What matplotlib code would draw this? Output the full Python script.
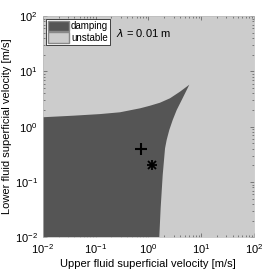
import matplotlib
matplotlib.use("Agg")
import matplotlib.pyplot as plt
from matplotlib.patches import Patch

plt.rcParams['font.family'] = ['Liberation Sans', 'DejaVu Sans']

# Boundary of damping region (top edge, left to tip)
top_x = [0.01, 0.038, 0.122, 0.29, 0.70, 1.07, 1.66, 2.57, 3.97, 5.96]
top_y = [1.48, 1.58, 1.69, 1.82, 2.15, 2.39, 2.71, 3.26, 4.29, 5.73]
# Right edge, from tip down to bottom
right_x = [5.96, 5.32, 4.28, 3.44, 2.89, 2.49, 2.22, 2.07, 1.87, 1.71, 1.61]
right_y = [5.73, 4.60, 3.03, 2.00, 1.32, 0.87, 0.574, 0.406, 0.134, 0.034, 0.01]

plus_pt = (0.726, 0.39)
star_pt = (1.19, 0.20)

xlim = (1e-2, 1e2)
ylim = (1e-2, 1e2)

fig = plt.figure(figsize=(2.66, 2.76), dpi=100)
ax = fig.add_axes([0.1605, 0.140, 0.7944, 0.802])
ax.set_xscale('log')
ax.set_yscale('log')
ax.set_xlim(*xlim)
ax.set_ylim(*ylim)

light = '#cccccc'
dark = '#555555'
ax.set_facecolor(light)

poly_x = [xlim[0]] + top_x + right_x[1:]
poly_y = [ylim[0]] + top_y + right_y[1:]
ax.fill(poly_x, poly_y, color=dark, lw=0, zorder=1)

ax.plot([plus_pt[0]], [plus_pt[1]], marker='+', color='black', ms=8, mew=1.5, zorder=3)
ax.plot([star_pt[0]], [star_pt[1]], marker='+', color='black', ms=7, mew=1.3, zorder=3)
ax.plot([star_pt[0]], [star_pt[1]], marker='x', color='black', ms=5.5, mew=1.3, zorder=3)

ax.text(0.347, 0.925, r'$\lambda$ = 0.01 m', fontsize=8, transform=ax.transAxes,
        va='center', ha='left')

handles = [Patch(facecolor=dark, edgecolor='#888888', label='damping'),
           Patch(facecolor=light, edgecolor='#888888', label='unstable')]
leg = ax.legend(handles=handles, loc='upper left', fontsize=7, frameon=True, fancybox=False,
                borderpad=0.2, handlelength=2.2, handleheight=1.3, handletextpad=0.2,
                labelspacing=0.1, borderaxespad=0.3, framealpha=1, edgecolor='black')
leg.get_frame().set_linewidth(0.5)

ax.tick_params(which='both', direction='in', top=True, right=True, labelsize=8, colors='#555555',
               labelcolor='black', width=0.5)
ax.tick_params(which='major', length=3)
ax.tick_params(which='minor', length=1.5)
for s in ax.spines.values():
    s.set_color('#bbbbbb')
    s.set_linewidth(0.5)

ax.set_xlabel('Upper fluid superficial velocity [m/s]', fontsize=8, labelpad=2)
ax.set_ylabel('Lower fluid superficial velocity [m/s]', fontsize=8, labelpad=2)

fig.savefig('out.png', dpi=100)
